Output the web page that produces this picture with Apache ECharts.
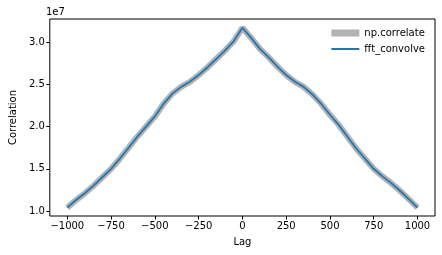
<!DOCTYPE html>
<html>
<head>
<meta charset="utf-8">
<script src="https://cdn.jsdelivr.net/npm/echarts@6/dist/echarts.min.js"></script>
<style>html,body{margin:0;padding:0;background:#fff}#c{width:442px;height:255px}</style>
</head>
<body>
<div id="c"></div>
<script>
var lags = [-1000,-950,-900,-850,-800,-750,-700,-650,-600,-550,-500,-450,-400,-350,-300,-250,-200,-150,-100,-50,0,50,100,150,200,250,300,350,400,450,500,550,600,650,700,750,800,850,900,950,1000];
var correlateVals = [1.04,1.13,1.21,1.30,1.40,1.50,1.62,1.75,1.88,2.00,2.12,2.27,2.39,2.47,2.53,2.61,2.70,2.80,2.90,3.01,3.17,3.05,2.92,2.82,2.71,2.61,2.53,2.47,2.38,2.27,2.14,2.02,1.88,1.74,1.62,1.50,1.41,1.33,1.24,1.14,1.04];
var fftVals = [1.04,1.13,1.21,1.30,1.40,1.50,1.62,1.75,1.88,2.00,2.12,2.27,2.39,2.47,2.53,2.61,2.70,2.80,2.90,3.01,3.17,3.05,2.92,2.82,2.71,2.61,2.53,2.47,2.38,2.27,2.14,2.02,1.88,1.74,1.62,1.50,1.41,1.33,1.24,1.14,1.04];
var xTicks = [-1000,-750,-500,-250,0,250,500,750,1000];
var yTicks = [1.0,1.5,2.0,2.5,3.0];
var yScale = 1e7;

function pairs(xs, ys){ var o=[]; for (var i=0;i<xs.length;i++) o.push([xs[i], ys[i]*yScale]); return o; }
var yTickVals = yTicks.map(function(v){return v*yScale;});

var font = 'DejaVu Sans';
var chart = echarts.init(document.getElementById('c'), null, {renderer:'canvas'});
chart.setOption({
  animation:false,
  backgroundColor:'#fff',
  grid:{left:46, top:19, right:7, bottom:39, show:true, borderColor:'#000', borderWidth:1, backgroundColor:'transparent'},
  xAxis:{type:'value', min:-1100, max:1100,
    name:'Lag', nameLocation:'middle', nameGap:21,
    nameTextStyle:{fontFamily:font, fontSize:10, color:'#000'},
    axisLine:{show:false, onZero:false}, splitLine:{show:false},
    axisTick:{show:true, length:3.5, lineStyle:{color:'#000'}, customValues:xTicks},
    axisLabel:{fontFamily:font, fontSize:10, color:'#000', margin:5, customValues:xTicks,
      formatter:function(v){return v<0 ? '\u2212'+Math.abs(v) : String(v);}}
  },
  yAxis:{type:'value', min:0.941*yScale, max:3.274*yScale,
    name:'Correlation', nameLocation:'middle', nameGap:31,
    nameTextStyle:{fontFamily:font, fontSize:10, color:'#000'},
    axisLine:{show:false, onZero:false}, splitLine:{show:false},
    axisTick:{show:true, length:3.5, lineStyle:{color:'#000'}, customValues:yTickVals},
    axisLabel:{fontFamily:font, fontSize:10, color:'#000', margin:5, customValues:yTickVals,
      formatter:function(v){return (v/yScale).toFixed(1);}}
  },
  legend:{orient:'vertical', right:17, top:28, padding:0, itemGap:6, itemWidth:28, itemHeight:7,
    symbolKeepAspect:true,
    textStyle:{fontFamily:font, fontSize:10, color:'#000'},
    data:[{name:'np.correlate', icon:'path://M0,0 L28,0 L28,7 L0,7 Z', itemStyle:{color:'#b3b3b3'}},
          {name:'fft_convolve', icon:'path://M0,0 L28,0 L28,2 L0,2 Z', itemStyle:{color:'#1f77b4'}}]
  },
  graphic:[{type:'text', left:46, top:7, style:{text:'1e7', font:'10px "DejaVu Sans"', fill:'#000'}}],
  series:[
    {name:'np.correlate', type:'line', data:pairs(lags, correlateVals), showSymbol:false, symbol:'none',
      lineStyle:{color:'#b3b3b3', width:6}, itemStyle:{color:'#b3b3b3'}},
    {name:'fft_convolve', type:'line', data:pairs(lags, fftVals), showSymbol:false, symbol:'none',
      lineStyle:{color:'#1f77b4', width:1.8}, itemStyle:{color:'#1f77b4'}}
  ]
});
</script>
</body>
</html>
